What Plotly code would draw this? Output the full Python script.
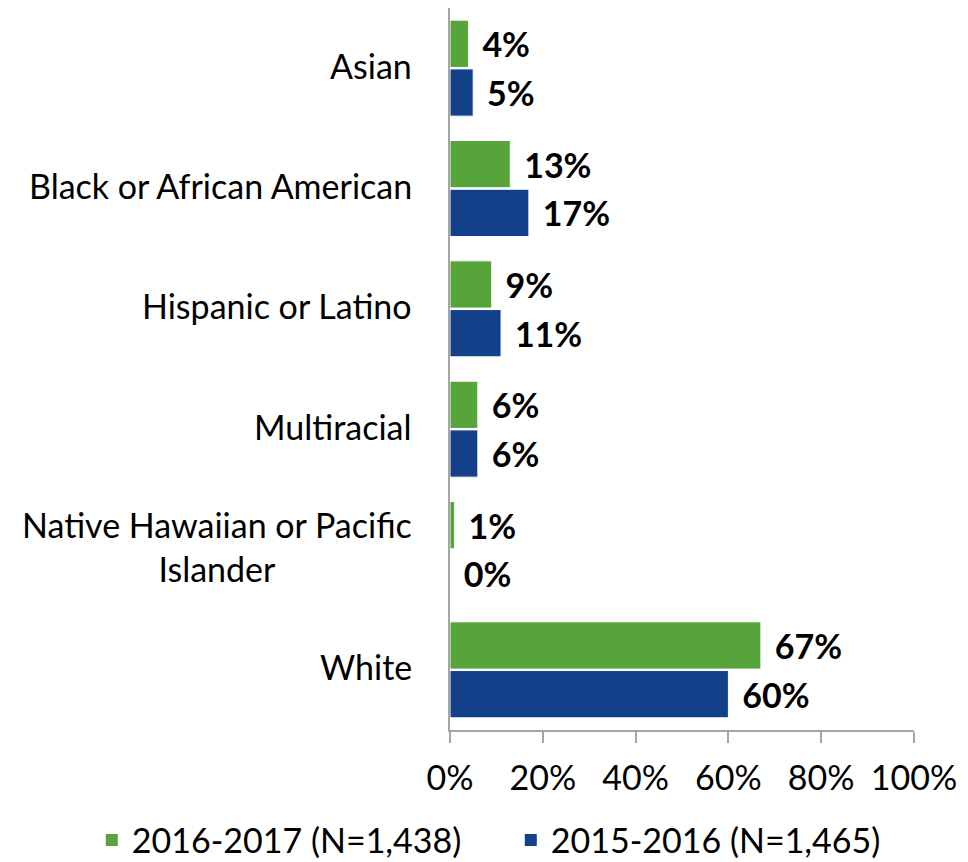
import plotly.graph_objects as go

categories = ["Asian", "Black or African American", "Hispanic or Latino", "Multiracial",
              "Native Hawaiian or Pacific<br>Islander", "White"]
values_2016_2017 = [4, 13, 9, 6, 1, 67]
values_2015_2016 = [5, 17, 11, 6, 0, 60]
series_names = ["2016-2017 (N=1,438)", "2015-2016 (N=1,465)"]
x_ticks = [0, 20, 40, 60, 80, 100]
x_tick_labels = ["0%", "20%", "40%", "60%", "80%", "100%"]

GREEN = "#56A43A"
BLUE = "#134189"
FONT = "Lato"
FS = 34

fig = go.Figure()
for name, vals, col in [(series_names[0], values_2016_2017, GREEN),
                        (series_names[1], values_2015_2016, BLUE)]:
    fig.add_trace(go.Bar(
        y=categories, x=vals, orientation="h", name=name,
        marker=dict(color=col, line=dict(color="white", width=1)),
        text=[f"{v}%" for v in vals],
        texttemplate="\u00a0\u200a<b>%{text}</b>", textposition="outside",
        textfont=dict(size=FS, color="black", family=FONT),
        constraintext="none", cliponaxis=False, showlegend=False,
    ))
    fig.add_trace(go.Scatter(
        x=[None], y=[None], mode="markers", name=name,
        marker=dict(symbol="square", size=18, color=col), showlegend=True,
    ))

for i, c in enumerate(categories):
    fig.add_annotation(
        x=-0.078, xref="paper", y=c, yref="y", text=c, showarrow=False,
        xanchor="right", yanchor="middle", align="center", yshift=3,
        font=dict(size=FS, color="black", family=FONT),
    )

fig.update_layout(
    width=960, height=862,
    margin=dict(l=442, r=54, t=0, b=140),
    plot_bgcolor="white", paper_bgcolor="white",
    barmode="group", bargap=0.19, bargroupgap=0.03,
    font=dict(family=FONT, size=FS, color="black"),
    legend=dict(orientation="h", x=-0.772, xref="paper", xanchor="left",
                y=-0.193, yref="paper", yanchor="bottom",
                font=dict(size=FS, family=FONT), itemsizing="constant",
                entrywidth=374, entrywidthmode="pixels",
                traceorder="normal", tracegroupgap=0),
    xaxis=dict(range=[0, 100], tickvals=x_ticks, ticktext=x_tick_labels,
               showgrid=False, zeroline=False, showline=True, linecolor="#A6A6A6",
               linewidth=2, ticks="outside", ticklen=11, tickcolor="#A6A6A6", tickwidth=2,
               ticklabelstandoff=6, tickfont=dict(size=FS, family=FONT)),
    yaxis=dict(autorange="reversed", showticklabels=False, showgrid=False,
               showline=True, linecolor="#A6A6A6", linewidth=2, ticks=""),
)

fig.write_html("out.html")
